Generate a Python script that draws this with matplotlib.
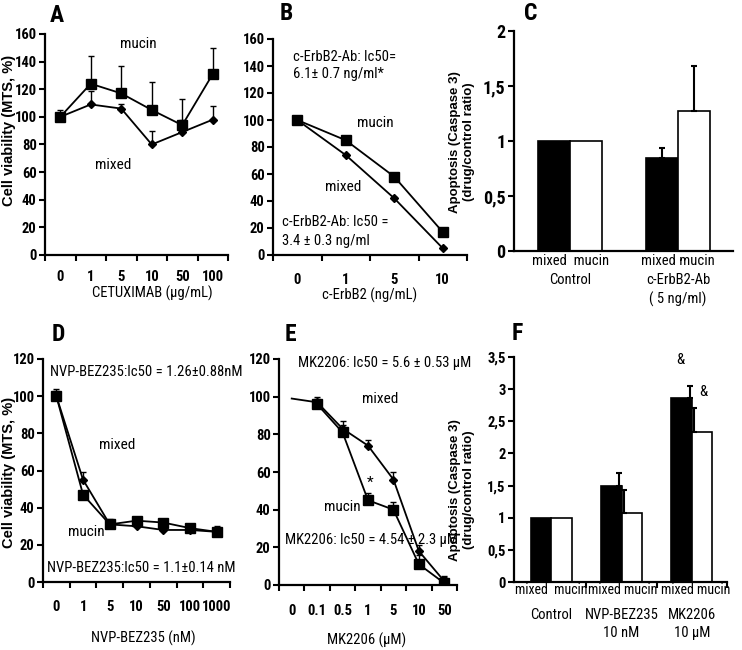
import numpy as np
import matplotlib
matplotlib.use('Agg')
import matplotlib.pyplot as plt
from matplotlib import font_manager
import matplotlib.transforms as mtransforms

# fonts: narrowest humanist face we have
installed = {f.name for f in font_manager.fontManager.ttflist}


def pick(*names):
    for n in names:
        if n in installed:
            return n
    return 'DejaVu Sans'


NARROW = pick('Liberation Sans Narrow', 'Roboto Condensed', 'Lato', 'Roboto')
WIDE = pick('Liberation Sans', 'Arial', 'DejaVu Sans')
plt.rcParams['font.family'] = [NARROW, 'DejaVu Sans']

# ---- data ----
# A: cetuximab
a_doses = ['0', '1', '5', '10', '50', '100']
a_mucin = [100, 124, 117, 105, 94, 131]
a_mucin_err = [3, 20, 20, 20, 19, 19]
a_mixed = [100, 109, 106, 80, 89, 98]
a_mixed_err = [5, 10, 3, 10, 9, 10]

# B: c-ErbB2 antibody
b_doses = ['0', '1', '5', '10']
b_mucin = [100, 85, 58, 17]
b_mucin_err = [3, 3, 3, 3]
b_mixed = [100, 74, 42, 5]
b_mixed_err = [2, 1, 1, 1]

# C: apoptosis, c-ErbB2-Ab
c_groups = ['mixed  mucin\nControl', 'mixed mucin\nc-ErbB2-Ab\n( 5 ng/ml)']
c_mixed = [1.0, 0.85]
c_mixed_err = [0, 0.09]
c_mucin = [1.0, 1.27]
c_mucin_err = [0, 0.41]

# D: NVP-BEZ235
d_doses = ['0', '1', '5', '10', '50', '100', '1000']
d_mucin = [100, 47, 31, 33, 32, 29, 27]
d_mucin_err = [3, 2, 2, 2, 2, 2, 3]
d_mixed = [100, 55, 31, 30, 28, 28, 27]
d_mixed_err = [4, 4, 3, 1, 1, 1, 1]

# E: MK2206
e_doses = ['0', '0.1', '0.5', '1', '5', '10', '50']
e_mucin = [np.nan, 96, 81, 45, 40, 11, 1]
e_mucin_err = [0, 3, 4, 4, 4, 5, 3]
e_mixed = [99, 97, 83, 74, 56, 18, 2]
e_mixed_err = [0, 3, 4, 3, 4, 3, 3]

# F: apoptosis, PI3K/AKT inhibitors
f_groups = ['Control', 'NVP-BEZ235\n10 nM', 'MK2206\n10 \u00b5M']
f_bar_labels = ['mixed  mucin', 'mixed mucin', 'mixed mucin']
f_mixed = [1.0, 1.5, 2.87]
f_mixed_err = [0, 0.2, 0.18]
f_mucin = [1.0, 1.08, 2.33]
f_mucin_err = [0, 0.35, 0.37]

# ---- layout helpers (pixel coords of a 742x650 canvas) ----
W, H = 742, 650
fig = plt.figure(figsize=(W / 100, H / 100), dpi=100)

TICK_SIZE = 10.5
NOTE_SIZE = 10.5
WORD_SIZE = 11
XLABEL_SIZE = 10.5
LETTER_SIZE = 17


def px_rect(left, top, right, bottom):
    return [left / W, 1 - bottom / H, (right - left) / W, (bottom - top) / H]


def fig_text(x, y, s, **kw):
    kw.setdefault('ha', 'center')
    kw.setdefault('va', 'center')
    fig.text(x / W, 1 - y / H, s, **kw)


def clean_axes(ax):
    for side in ('top', 'right'):
        ax.spines[side].set_visible(False)
    for side in ('left', 'bottom'):
        ax.spines[side].set_linewidth(1.6)


def line_panel(ax, labels, ymax, ystep, pad):
    n = len(labels)
    clean_axes(ax)
    ax.set_xlim(-0.5, n - 0.5)
    ax.set_ylim(0, ymax)
    ax.set_xticks(np.arange(n + 1) - 0.5)
    ax.set_xticklabels([])
    ax.set_xticks(np.arange(n), minor=True)
    ax.set_xticklabels(labels, minor=True, fontweight='bold', fontsize=TICK_SIZE)
    ax.tick_params(axis='x', which='major', length=4, width=1.5)
    ax.tick_params(axis='x', which='minor', length=0, pad=pad)
    ax.set_yticks(np.arange(0, ymax + 1, ystep))
    ax.tick_params(axis='y', length=4, width=1.5, labelsize=TICK_SIZE, pad=2)
    for t in ax.get_yticklabels():
        t.set_fontweight('bold')


def curve(ax, y, err, marker, ms, skip_first_marker=False):
    y = np.asarray(y, dtype=float)
    err = np.asarray(err, dtype=float)
    x = np.arange(len(y))
    every = list(range(1, len(y))) if skip_first_marker else None
    ax.plot(x, y, color='black', lw=1.3, marker=marker, ms=ms, markevery=every)
    keep = err > 0
    ax.errorbar(x[keep], y[keep], yerr=[np.zeros(keep.sum()), err[keep]], fmt='none',
                ecolor='black', elinewidth=1, capsize=2.5, capthick=1)


def bar_panel(ax, ymax, ystep, ylabels, labelsize):
    clean_axes(ax)
    ax.set_ylim(0, ymax)
    ax.set_yticks(np.arange(0, ymax + 0.01, ystep))
    ax.set_yticklabels(ylabels, fontweight='bold', fontsize=labelsize)
    ax.tick_params(axis='y', length=4, width=1.5, pad=2)


def bar_errors(ax, xs, vals, errs):
    errs = np.asarray(errs, dtype=float)
    keep = errs > 0
    ax.errorbar(np.asarray(xs)[keep], np.asarray(vals)[keep],
                yerr=[np.zeros(keep.sum()), errs[keep]],
                fmt='none', ecolor='black', elinewidth=1.5, capsize=2, capthick=1.5)


# ---- A ----
ax = fig.add_axes(px_rect(45, 34, 228, 255))
line_panel(ax, a_doses, 160, 20, 11)
curve(ax, a_mucin, a_mucin_err, 's', 6.5)
curve(ax, a_mixed, a_mixed_err, 'D', 4.5)
ax.text(2.55, 153, 'mucin', ha='center', va='center', fontsize=WORD_SIZE)
ax.text(1.73, 65, 'mixed', ha='center', va='center', fontsize=WORD_SIZE)
fig_text(152, 293, 'CETUXIMAB (\u00b5g/mL)', fontsize=XLABEL_SIZE)
fig_text(57, 15, 'A', fontsize=LETTER_SIZE, fontweight='bold')

# ---- B ----
ax = fig.add_axes(px_rect(273, 39, 467, 255))
line_panel(ax, b_doses, 160, 20, 13)
curve(ax, b_mucin, b_mucin_err, 's', 6.5)
curve(ax, b_mixed, b_mixed_err, 'D', 4.5)
ax.text(-0.08, 147, 'c-ErbB2-Ab: Ic50=', va='center', fontsize=NOTE_SIZE)
ax.text(-0.08, 134, '6.1\u00b1 0.7 ng/ml*', va='center', fontsize=NOTE_SIZE)
ax.text(1.6, 98, 'mucin', ha='center', va='center', fontsize=WORD_SIZE)
ax.text(0.95, 50, 'mixed', ha='center', va='center', fontsize=WORD_SIZE)
ax.text(-0.31, 24.5, 'c-ErbB2-Ab: Ic50 =', va='center', fontsize=NOTE_SIZE)
ax.text(-0.31, 10.5, '3.4 \u00b1 0.3 ng/ml', va='center', fontsize=NOTE_SIZE)
fig_text(370, 295, 'c-ErbB2 (ng/mL)', fontsize=XLABEL_SIZE)
fig_text(286, 13, 'B', fontsize=LETTER_SIZE, fontweight='bold')

# ---- C ----
ax = fig.add_axes(px_rect(514, 31, 733, 251))
bar_panel(ax, 2, 0.5, ['0', '0,5', '1', '1,5', '2'], 13)
xc = np.arange(len(c_groups))
ax.bar(xc - 0.15, c_mixed, 0.3, color='black', edgecolor='black', lw=1.2)
ax.bar(xc + 0.15, c_mucin, 0.3, color='white', edgecolor='black', lw=1.2)
bar_errors(ax, xc - 0.15, c_mixed, c_mixed_err)
bar_errors(ax, xc + 0.15, c_mucin, c_mucin_err)
ax.set_xlim(-0.52, 1.51)
ax.set_xticks(xc)
ax.set_xticklabels(c_groups, fontsize=XLABEL_SIZE, linespacing=1.45)
ax.tick_params(axis='x', length=0, pad=2)
fig_text(462, 142, 'Apoptosis (Caspase 3)\n(drug/control ratio)', rotation=90,
         family=WIDE, fontweight='bold', fontsize=9.5, linespacing=1.2)
fig_text(531, 13, 'C', fontsize=LETTER_SIZE, fontweight='bold')

# ---- D ----
ax = fig.add_axes(px_rect(43, 359, 230, 582))
line_panel(ax, d_doses, 120, 20, 13)
curve(ax, d_mucin, d_mucin_err, 's', 6.5)
curve(ax, d_mixed, d_mixed_err, 'D', 4.5)
ax.text(-0.24, 113, 'NVP-BEZ235:Ic50 = 1.26\u00b10.88nM', va='center', fontsize=NOTE_SIZE)
ax.text(2.26, 73.7, 'mixed', ha='center', va='center', fontsize=WORD_SIZE)
ax.text(1.14, 27, 'mucin', ha='center', va='center', fontsize=WORD_SIZE)
ax.text(-0.35, 7.5, 'NVP-BEZ235:Ic50 = 1.1\u00b10.14 nM', va='center', fontsize=NOTE_SIZE)
fig_text(143, 638, 'NVP-BEZ235 (nM)', fontsize=XLABEL_SIZE)
fig_text(58, 335, 'D', fontsize=LETTER_SIZE, fontweight='bold')

# ---- E ----
ax = fig.add_axes(px_rect(279, 359, 457, 585))
line_panel(ax, e_doses, 120, 20, 14)
curve(ax, e_mucin, e_mucin_err, 's', 6.5)
curve(ax, e_mixed, e_mixed_err, 'D', 4.5, skip_first_marker=True)
ax.text(0.24, 118, 'MK2206: Ic50 = 5.6 \u00b1 0.53 \u00b5M', va='center', fontsize=NOTE_SIZE)
ax.text(3.46, 98.8, 'mixed', ha='center', va='center', fontsize=WORD_SIZE)
ax.text(3.07, 54, '*', ha='center', va='center', fontsize=11)
ax.text(2.0, 41.4, 'mucin', ha='center', va='center', fontsize=WORD_SIZE)
ax.text(-0.28, 23.9, 'MK2206: Ic50 = 4.54 \u00b1 2.3 \u00b5M', va='center', fontsize=NOTE_SIZE)
fig_text(367, 640, 'MK2206 (\u00b5M)', fontsize=XLABEL_SIZE)
fig_text(290, 335, 'E', fontsize=LETTER_SIZE, fontweight='bold')

# ---- F ----
ax = fig.add_axes(px_rect(514, 357, 727, 582))
bar_panel(ax, 3.5, 0.5, ['0', '0,5', '1', '1,5', '2', '2,5', '3', '3,5'], 10.5)
xf = np.arange(len(f_groups))
ax.bar(xf, f_mixed, -0.29, align='edge', color='black', edgecolor='black', lw=1.2)
ax.bar(xf, f_mucin, 0.29, align='edge', color='white', edgecolor='black', lw=1.2)
bar_errors(ax, xf - 0.03, f_mixed, f_mixed_err)
bar_errors(ax, xf + 0.03, f_mucin, f_mucin_err)
ax.set_xlim(-0.53, 2.37)
ax.set_xticks(xf + 0.5)
ax.set_xticklabels([])
ax.tick_params(axis='x', which='major', length=4, width=1.5)
ax.set_xticks(xf + np.array([0.0, 0.02, 0.05]), minor=True)
ax.set_xticklabels(f_bar_labels, minor=True, fontsize=10)
ax.tick_params(axis='x', which='minor', length=0, pad=1)
trans = mtransforms.blended_transform_factory(ax.transData, ax.transAxes)
for x, g in zip(xf, f_groups):
    ax.text(x, -0.115, g, transform=trans, ha='center', va='top', fontsize=XLABEL_SIZE,
            linespacing=1.35)
ax.text(1.84, 3.45, '&', ha='center', va='center', fontsize=11)
ax.text(2.16, 2.95, '&', ha='center', va='center', fontsize=11)
fig_text(462, 490, 'Apoptosis (Caspase 3)\n(drug/control ratio)', rotation=90,
         family=WIDE, fontweight='bold', fontsize=9.5, linespacing=1.2)
fig_text(517, 333, 'F', fontsize=LETTER_SIZE, fontweight='bold')

# y labels of the viability panels
fig_text(9, 130, 'Cell viability (MTS, %)', rotation=90, family=WIDE,
         fontweight='bold', fontsize=10.5)
fig_text(9, 472, 'Cell viability (MTS, %)', rotation=90, family=WIDE,
         fontweight='bold', fontsize=10.5)

fig.savefig('out.png', dpi=100)
